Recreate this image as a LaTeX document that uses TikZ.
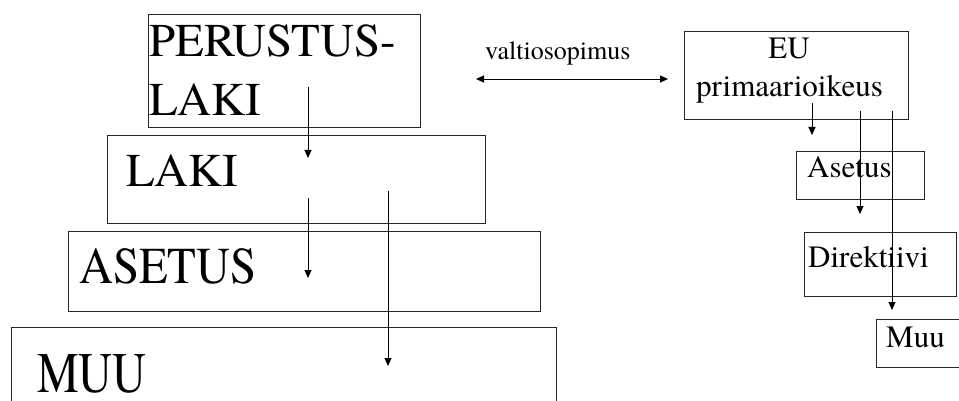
\documentclass[tikz,border=0pt]{standalone}
\usepackage{fontspec}
\setmainfont{TeX Gyre Termes}
\usepackage{graphicx}
\usetikzlibrary{arrows.meta}
\begin{document}
\begin{tikzpicture}[x=1pt,y=-1pt,
  box/.style={draw=black!85, line width=1.1pt, inner sep=0pt, anchor=north west},
  big/.style={inner sep=0pt, anchor=base west, font=\fontsize{47}{56}\selectfont},
  small/.style={inner sep=0pt, anchor=base west, font=\fontsize{31}{37}\selectfont},
  arr/.style={line width=0.9pt, -{Triangle[length=8pt,width=7pt]}},
  dbl/.style={line width=0.9pt, {Triangle[length=8pt,width=7pt]}-{Triangle[length=8pt,width=7pt]}}]
\clip (0,0) rectangle (959,401);
\fill[white] (0,0) rectangle (959,401);
% left boxes
\node[box, minimum width=272pt, minimum height=113pt] (pl) at (148,14) {};
\node[box, minimum width=378pt, minimum height=88pt] (laki) at (107,135) {};
\node[box, minimum width=472pt, minimum height=80pt] (ases) at (68,231) {};
\node[box, minimum width=545pt, minimum height=100pt] (muu) at (11,327) {};
\node[big] (tpl1) at (149,57) {PERUSTUS-};
\node[big] (tpl2) at (149,116) {LAKI};
\node[big] (tlaki) at (126,186) {LAKI};
\node[big] (tases) at (79,283) {\scalebox{1}[1.1]{ASETUS}};
\node[big] (tmuu) at (37,392) {\scalebox{1}[1.22]{MUU}};
% right boxes
\node[box, minimum width=224pt, minimum height=88pt] (eu) at (684,31) {};
\node[box, minimum width=128pt, minimum height=48pt] (eas) at (796,151) {};
\node[box, minimum width=152pt, minimum height=64pt] (dir) at (804,232) {};
\node[box, minimum width=90pt, minimum height=48pt] (emuu) at (876,319) {};
\node[small, anchor=base] (teu) at (789,59) {EU};
\node[small] (tprim) at (696,97) {primaarioikeus};
\node[small] (teas) at (807,178) {Asetus};
\node[small] (tdir) at (808,267) {Direktiivi};
\node[small] (temuu) at (886,347) {Muu};
\node[inner sep=0pt, anchor=base west, font=\fontsize{26}{31}\selectfont] (tval) at (485,60) {valtiosopimus};
% arrow end points
\coordinate (a1s) at (308,87);  \coordinate (a1e) at (308,158);
\coordinate (a2s) at (308,198); \coordinate (a2e) at (308,278);
\coordinate (a3s) at (388,191); \coordinate (a3e) at (388,366);
\coordinate (ds) at (476,79);   \coordinate (de) at (668,79);
\coordinate (e1s) at (812,103); \coordinate (e1e) at (812,135);
\coordinate (e2s) at (860,111); \coordinate (e2e) at (860,214);
\coordinate (e3s) at (892,111); \coordinate (e3e) at (892,310);
\draw[arr] (a1s) -- (a1e);
\draw[arr] (a2s) -- (a2e);
\draw[arr] (a3s) -- (a3e);
\draw[dbl] (ds) -- (de);
\draw[arr] (e1s) -- (e1e);
\draw[arr] (e2s) -- (e2e);
\draw[arr] (e3s) -- (e3e);
\end{tikzpicture}
\end{document}
